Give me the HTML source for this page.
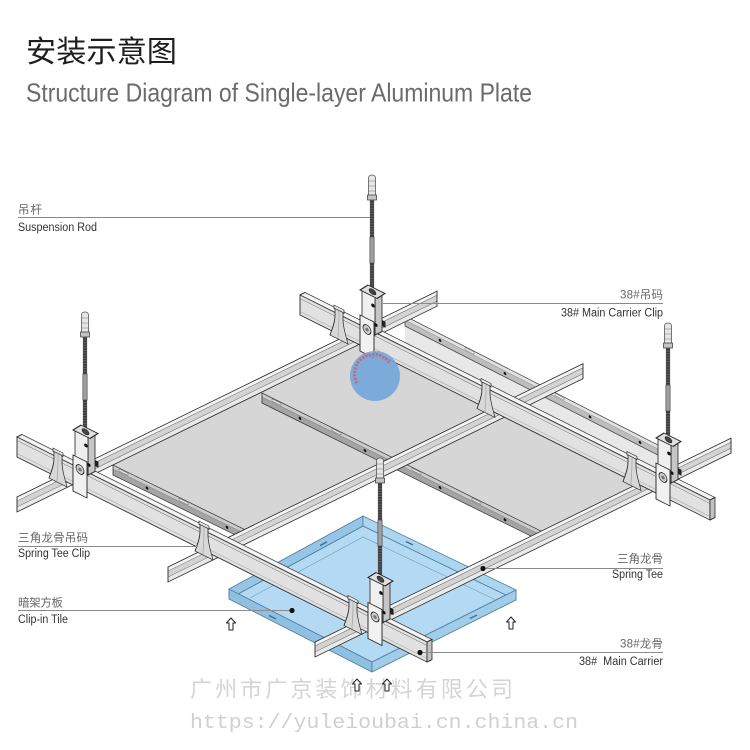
<!DOCTYPE html>
<html><head><meta charset="utf-8">
<style>
html,body{margin:0;padding:0;background:#fff;width:750px;height:750px;overflow:hidden}
svg{display:block}
.en{font-family:"Liberation Sans",Arial,sans-serif;font-size:11.5px;fill:#333}
.cn{font-family:"Liberation Sans","Noto Sans CJK SC",sans-serif;font-size:11.5px;fill:#666}
</style></head><body>
<svg xmlns="http://www.w3.org/2000/svg" width="750" height="750" viewBox="0 0 750 750">
<defs>
 <g id="tab">
  <rect x="-4" y="-7" width="10" height="3.5" fill="#e6e6e6" stroke="#2a2a2a" stroke-width="0.7"/>
  <path d="M-3,-4 L5,-4 L5,3 C5,11 8,18 10,25 L-8,25 C-6,18 -3,11 -3,3 Z" fill="#d8d8d8" stroke="#2a2a2a" stroke-width="0.8"/>
  <path d="M1,-4 L1,3 C1,11 0,18 0,25" fill="none" stroke="#999" stroke-width="0.6"/>
 </g>
 <g id="clip">
  <polygon points="3,-36 10,-43 10,-4.5 3,2.5" fill="#c6c6c6" stroke="#222" stroke-width="0.8"/>
  <rect x="-10" y="-36" width="13" height="38.5" fill="#efefef" stroke="#222" stroke-width="0.8"/>
  <polygon points="-12,-35 5,-35 13,-44 -4,-44" fill="#e0e0e0" stroke="#222" stroke-width="0.9"/>
  <ellipse cx="0.5" cy="-39.5" rx="3.5" ry="2.6" fill="#444" stroke="#111" stroke-width="0.5"/>
  <circle cx="1" cy="-26" r="1.8" fill="#111"/>
  <rect x="10" y="-16" width="3.5" height="6" fill="#222"/>
  <rect x="-12" y="-10" width="14" height="36" fill="#f1f1f1" stroke="#222" stroke-width="0.9"/>
  <ellipse cx="-5" cy="1" rx="4" ry="4.5" fill="#d0d0d0" stroke="#222" stroke-width="0.8"/>
  <circle cx="-5" cy="1" r="1.8" fill="#777"/>
  <circle cx="4" cy="-8" r="1.6" fill="#111"/>
 </g>
 <g id="rod">
  <rect x="-2.1" y="25" width="4.2" height="94" fill="#3b3b3b"/>
  <line x1="0" y1="25" x2="0" y2="119" stroke="#aaa" stroke-width="4" stroke-dasharray="1 1.6" opacity="0.35"/>
  <rect x="-2.1" y="62" width="4.2" height="26" fill="#a0a0a0" stroke="#3b3b3b" stroke-width="0.6"/>
  <rect x="-3.5" y="0" width="7" height="22" rx="3" fill="#e6e6e6" stroke="#555" stroke-width="0.8"/>
  <path d="M-3.5,6h7M-3.5,11h7M-3.5,16h7" stroke="#777" stroke-width="0.6"/>
  <rect x="-4.5" y="20" width="9" height="5" fill="#c4c4c4" stroke="#333" stroke-width="0.7"/>
 </g>
</defs>

<rect width="750" height="750" fill="#fff"/>

<!-- Title -->
<text x="26" y="62" font-family="'Liberation Sans','Noto Sans CJK SC',sans-serif" font-size="30" fill="#1e1e1e" textLength="151" lengthAdjust="spacingAndGlyphs">安装示意图</text>
<text x="26" y="101.5" font-family="'Liberation Sans',Arial,sans-serif" font-size="26" fill="#6b6b6b" textLength="506" lengthAdjust="spacingAndGlyphs">Structure Diagram of Single-layer Aluminum Plate</text>

<!-- Blue clip-in tile -->
<g stroke="#4d7c9c" stroke-width="0.8" stroke-linejoin="round">
 <polygon points="229,599 363,526 516,600 516,590 372,662 229,589" fill="#b4daf3"/>
 <polygon points="229,589 363,516 363,526 229,599" fill="#97c5e5"/>
 <polygon points="363,516 516,590 516,600 363,526" fill="#acd5f0"/>
 <polygon points="229,589 372,662 372,672 229,599" fill="#8fc0e1"/>
 <polygon points="372,662 516,590 516,600 372,672" fill="#a2cdea"/>
</g>
<g fill="none" stroke="#6b9bbb" stroke-width="0.6">
 <polyline points="250,598 363,537 496,600"/>
</g>
<g stroke="#3f6f90" stroke-width="1.4">
 <line x1="266" y1="573.6" x2="273" y2="569.8"/>
 <line x1="320" y1="545.6" x2="327" y2="541.8"/>
 <line x1="406" y1="541.5" x2="413" y2="545"/>
 <line x1="467" y1="567.5" x2="474" y2="571"/>
 <line x1="269" y1="615.5" x2="276" y2="619"/>
 <line x1="326" y1="643.5" x2="333" y2="647"/>
 <line x1="412" y1="646.5" x2="419" y2="643"/>
 <line x1="470" y1="618.5" x2="477" y2="615"/>
</g>

<!-- Gray ceiling tiles -->
<polygon points="98,457 364,327 509,400 245,530" fill="#d6d6d6"/>
<polygon points="392,457 509,400 658,474 541,531" fill="#d6d6d6"/>
<polygon points="405,326 664,458 664,477 405,347.5" fill="#e8e8e8"/>

<!-- Tile flange strips -->
<g transform="matrix(1,0.49,0,1,113,465)">
 <rect width="132" height="4" fill="#cbcbcb"/>
 <rect y="4" width="132" height="6" fill="#a4a4a4"/>
 <line x1="0" y1="4" x2="132" y2="4" stroke="#777" stroke-width="0.5"/>
 <rect width="132" height="10" fill="none" stroke="#333" stroke-width="0.8"/>
 <circle cx="34" cy="6.5" r="1.4" fill="#111"/>
 <circle cx="114" cy="6.5" r="1.4" fill="#111"/>
 <rect x="6" y="1" width="9" height="2" fill="#eee" stroke="#555" stroke-width="0.4"/>
 <rect x="66" y="1" width="9" height="2" fill="#eee" stroke="#555" stroke-width="0.4"/>
</g>
<g transform="matrix(1,0.495,0,1,262,393)">
 <rect width="283" height="4" fill="#cbcbcb"/>
 <rect y="4" width="283" height="6" fill="#a4a4a4"/>
 <line x1="0" y1="4" x2="283" y2="4" stroke="#777" stroke-width="0.5"/>
 <rect width="283" height="10" fill="none" stroke="#333" stroke-width="0.8"/>
 <circle cx="38" cy="6.5" r="1.4" fill="#111"/>
 <circle cx="103" cy="6.5" r="1.4" fill="#111"/>
 <circle cx="178" cy="6.5" r="1.4" fill="#111"/>
 <circle cx="243" cy="6.5" r="1.4" fill="#111"/>
 <rect x="10" y="1" width="9" height="2" fill="#eee" stroke="#555" stroke-width="0.4"/>
 <rect x="70" y="1" width="9" height="2" fill="#eee" stroke="#555" stroke-width="0.4"/>
 <rect x="150" y="1" width="9" height="2" fill="#eee" stroke="#555" stroke-width="0.4"/>
 <rect x="210" y="1" width="9" height="2" fill="#eee" stroke="#555" stroke-width="0.4"/>
</g>
<g transform="matrix(1,0.51,0,1,405,316)">
 <rect width="259" height="4" fill="#e2e2e2"/>
 <rect y="4" width="259" height="6" fill="#bdbdbd"/>
 <line x1="0" y1="4" x2="259" y2="4" stroke="#888" stroke-width="0.5"/>
 <rect width="259" height="10" fill="none" stroke="#444" stroke-width="0.8"/>
 <circle cx="35" cy="6.5" r="1.4" fill="#111"/>
 <circle cx="100" cy="6.5" r="1.4" fill="#111"/>
 <circle cx="185" cy="6.5" r="1.4" fill="#111"/>
 <circle cx="235" cy="6.5" r="1.4" fill="#111"/>
 <rect x="60" y="1" width="9" height="2" fill="#f2f2f2" stroke="#666" stroke-width="0.4"/>
 <rect x="150" y="1" width="9" height="2" fill="#f2f2f2" stroke="#666" stroke-width="0.4"/>
</g>

<!-- Spring tees -->
<g transform="matrix(1,-0.49,0,1,17,497)">
 <rect width="420" height="4" fill="#f4f4f4"/>
 <rect y="4" width="420" height="6" fill="#d3d3d3"/>
 <rect y="10" width="420" height="5" fill="#e9e9e9"/>
 <line x1="0" y1="4" x2="420" y2="4" stroke="#666" stroke-width="0.6"/>
 <line x1="0" y1="10" x2="420" y2="10" stroke="#666" stroke-width="0.6"/>
 <rect width="420" height="15" fill="none" stroke="#2a2a2a" stroke-width="0.9"/>
</g>
<g transform="matrix(1,-0.49,0,1,168,567)">
 <rect width="415" height="4" fill="#f4f4f4"/>
 <rect y="4" width="415" height="6" fill="#d3d3d3"/>
 <rect y="10" width="415" height="5" fill="#e9e9e9"/>
 <line x1="0" y1="4" x2="415" y2="4" stroke="#666" stroke-width="0.6"/>
 <line x1="0" y1="10" x2="415" y2="10" stroke="#666" stroke-width="0.6"/>
 <rect width="415" height="15" fill="none" stroke="#2a2a2a" stroke-width="0.9"/>
</g>
<g transform="matrix(1,-0.49,0,1,315,642)">
 <rect width="416" height="4" fill="#f4f4f4"/>
 <rect y="4" width="416" height="6" fill="#d3d3d3"/>
 <rect y="10" width="416" height="5" fill="#e9e9e9"/>
 <line x1="0" y1="4" x2="416" y2="4" stroke="#666" stroke-width="0.6"/>
 <line x1="0" y1="10" x2="416" y2="10" stroke="#666" stroke-width="0.6"/>
 <rect width="416" height="15" fill="none" stroke="#2a2a2a" stroke-width="0.9"/>
</g>

<!-- Suspension rods -->
<use href="#rod" x="372" y="175"/>
<use href="#rod" x="85" y="312"/>
<use href="#rod" x="668" y="323"/>
<use href="#rod" x="380" y="458"/>

<!-- Upper main carrier -->
<g transform="matrix(1,0.5,0,1,300,295)">
 <polygon points="0,0 410,0 415,-5 5,-5" fill="#f3f3f3" stroke="#2a2a2a" stroke-width="0.8"/>
 <rect x="0" y="0" width="410" height="20" fill="#e1e1e1" stroke="#2a2a2a" stroke-width="0.9"/>
 <line x1="0" y1="3.5" x2="410" y2="3.5" stroke="#6a6a6a" stroke-width="0.6"/>
 <line x1="0" y1="16.5" x2="410" y2="16.5" stroke="#9a9a9a" stroke-width="0.6"/>
 <polygon points="410,0 415,-5 415,15 410,20" fill="#c2c2c2" stroke="#2a2a2a" stroke-width="0.8"/>
 <use href="#tab" x="38" y="0"/>
 <use href="#tab" x="185" y="0"/>
 <use href="#tab" x="331" y="0"/>
 <use href="#clip" x="72" y="0"/>
 <use href="#clip" x="368" y="0"/>
</g>

<!-- Lower main carrier -->
<g transform="matrix(1,0.5,0,1,17,437)">
 <polygon points="0,0 410,0 415,-5 5,-5" fill="#f3f3f3" stroke="#2a2a2a" stroke-width="0.8"/>
 <rect x="0" y="0" width="410" height="20" fill="#e1e1e1" stroke="#2a2a2a" stroke-width="0.9"/>
 <line x1="0" y1="3.5" x2="410" y2="3.5" stroke="#6a6a6a" stroke-width="0.6"/>
 <line x1="0" y1="16.5" x2="410" y2="16.5" stroke="#9a9a9a" stroke-width="0.6"/>
 <polygon points="410,0 415,-5 415,15 410,20" fill="#c2c2c2" stroke="#2a2a2a" stroke-width="0.8"/>
 <use href="#tab" x="40" y="0"/>
 <use href="#tab" x="186" y="0"/>
 <use href="#tab" x="335" y="0"/>
 <use href="#clip" x="68" y="0"/>
 <use href="#clip" x="363" y="0"/>
</g>

<!-- Leader lines -->
<g stroke="#8a8a8a" stroke-width="1">
 <line x1="18" y1="217.5" x2="370" y2="217.5"/>
 <line x1="383" y1="303.5" x2="663" y2="303.5"/>
 <line x1="18" y1="546.5" x2="198" y2="546.5"/>
 <line x1="18" y1="610.5" x2="292" y2="610.5"/>
 <line x1="483" y1="568.5" x2="663" y2="568.5"/>
 <line x1="420" y1="652.5" x2="663" y2="652.5"/>
</g>
<g fill="#111">
 <circle cx="292" cy="610.5" r="2.6"/>
 <circle cx="483" cy="568.5" r="2.6"/>
 <circle cx="420" cy="652.5" r="2.6"/>
</g>

<!-- Labels -->
<text class="cn" x="18" y="213.5" textLength="24">吊杆</text>
<text class="en" x="18" y="231" textLength="79" lengthAdjust="spacingAndGlyphs">Suspension Rod</text>
<text class="cn" x="620" y="298.5" textLength="43">38#吊码</text>
<text class="en" x="561" y="316.5" textLength="102" lengthAdjust="spacingAndGlyphs">38# Main Carrier Clip</text>
<text class="cn" x="18" y="541.5" textLength="70">三角龙骨吊码</text>
<text class="en" x="18" y="557" textLength="72" lengthAdjust="spacingAndGlyphs">Spring Tee Clip</text>
<text class="cn" x="18" y="606.5" textLength="45">暗架方板</text>
<text class="en" x="18" y="623" textLength="50" lengthAdjust="spacingAndGlyphs">Clip-in Tile</text>
<text class="cn" x="617" y="562.5" textLength="46">三角龙骨</text>
<text class="en" x="612" y="578" textLength="51" lengthAdjust="spacingAndGlyphs">Spring Tee</text>
<text class="cn" x="620" y="647.5" textLength="43">38#龙骨</text>
<text class="en" x="579" y="665" textLength="84" lengthAdjust="spacingAndGlyphs">38#&#160; Main Carrier</text>

<!-- Blue circle mark -->
<circle cx="375" cy="376" r="25" fill="#6fa5da" fill-opacity="0.88"/>
<path d="M357,383 A19,19 0 0 1 390,364" fill="none" stroke="#e0566a" stroke-width="3" stroke-dasharray="2 1.5" opacity="0.85"/>

<!-- Watermark -->
<text x="190" y="697" font-family="'Liberation Sans','Noto Sans CJK SC',sans-serif" font-size="22" fill="#d4d4d4" textLength="323">广州市广京装饰材料有限公司</text>
<text x="190" y="728" font-family="'Liberation Mono',monospace" font-size="20" fill="#d0d0d0" textLength="388" lengthAdjust="spacingAndGlyphs">https://yuleioubai.cn.china.cn</text>

<!-- Up arrows -->
<g fill="#fff" stroke="#222" stroke-width="1" stroke-linejoin="round">
 <path d="M231,618 L235.5,623 L233,623 L233,630 L229,630 L229,623 L226.5,623 Z"/>
 <path d="M511,617 L515.5,622 L513,622 L513,629 L509,629 L509,622 L506.5,622 Z"/>
 <path d="M357,679 L361.5,684 L359,684 L359,691 L355,691 L355,684 L352.5,684 Z"/>
 <path d="M387,679 L391.5,684 L389,684 L389,691 L385,691 L385,684 L382.5,684 Z"/>
</g>
</svg>
</body></html>
